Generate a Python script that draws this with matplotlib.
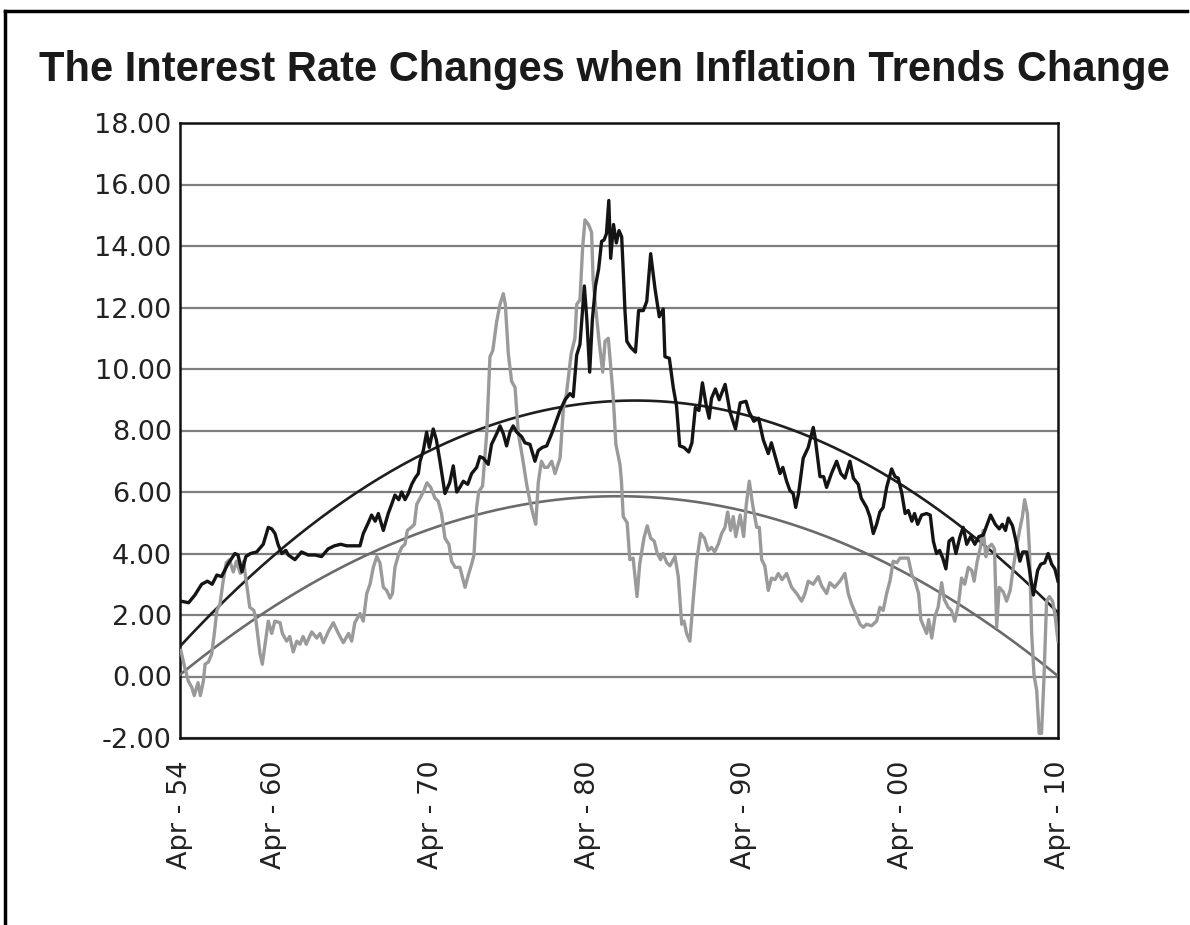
import matplotlib
matplotlib.use("Agg")
import matplotlib.pyplot as plt
from matplotlib.lines import Line2D
import numpy as np

# 10-year rate (black) and inflation (gray), decimal years
rate_years = [
    1954.30, 1954.80, 1955.20, 1955.63, 1956.00, 1956.30, 1956.60, 1956.90, 1957.30, 1957.75,
    1957.95, 1958.20, 1958.45, 1958.75, 1959.14, 1959.56, 1959.88, 1960.10, 1960.31, 1960.50,
    1960.74, 1961.00, 1961.16, 1961.58, 1962.00, 1962.43, 1962.86, 1963.28, 1963.70, 1964.10,
    1964.50, 1964.88, 1965.40, 1965.73, 1965.94, 1966.26, 1966.47, 1966.70, 1966.90, 1967.22,
    1967.53, 1967.75, 1967.96, 1968.20, 1968.39, 1968.60, 1968.81, 1969.03, 1969.24, 1969.45,
    1969.56, 1969.77, 1969.98, 1970.15, 1970.40, 1970.60, 1970.83, 1971.15, 1971.45, 1971.68,
    1971.90, 1972.10, 1972.32, 1972.60, 1972.85, 1973.17, 1973.38, 1973.60, 1973.91, 1974.12,
    1974.45, 1974.66, 1974.87, 1975.08, 1975.30, 1975.50, 1975.72, 1976.04, 1976.25, 1976.57,
    1976.89, 1977.10, 1977.36, 1977.64, 1977.96, 1978.17, 1978.49, 1978.81, 1979.12, 1979.33,
    1979.55, 1979.76, 1980.04, 1980.20, 1980.38, 1980.55, 1980.75, 1980.95, 1981.14, 1981.30,
    1981.45, 1981.60, 1981.72, 1981.90, 1982.08, 1982.25, 1982.42, 1982.52, 1982.63, 1982.75,
    1983.00, 1983.30, 1983.50, 1983.80, 1984.02, 1984.27, 1984.55, 1984.82, 1985.07, 1985.18,
    1985.46, 1985.71, 1985.92, 1986.12, 1986.39, 1986.70, 1986.90, 1987.12, 1987.35, 1987.57,
    1987.82, 1988.00, 1988.15, 1988.40, 1988.64, 1989.02, 1989.33, 1989.68, 1989.98, 1990.35,
    1990.55, 1990.85, 1991.15, 1991.45, 1991.77, 1991.97, 1992.30, 1992.52, 1992.70, 1992.94,
    1993.15, 1993.36, 1993.52, 1993.70, 1994.00, 1994.32, 1994.64, 1994.75, 1995.07, 1995.30,
    1995.49, 1995.80, 1996.13, 1996.40, 1996.66, 1996.98, 1997.20, 1997.51, 1997.70, 1998.04,
    1998.25, 1998.47, 1998.68, 1998.89, 1999.10, 1999.32, 1999.64, 1999.85, 2000.06, 2000.29,
    2000.50, 2000.70, 2000.93, 2001.10, 2001.30, 2001.55, 2001.87, 2002.10, 2002.30, 2002.50,
    2002.70, 2002.90, 2003.10, 2003.30, 2003.53, 2003.74, 2004.00, 2004.20, 2004.43, 2004.68,
    2004.95, 2005.20, 2005.48, 2005.70, 2005.95, 2006.25, 2006.50, 2006.70, 2006.90, 2007.08,
    2007.35, 2007.55, 2007.82, 2008.00, 2008.25, 2008.45, 2008.68, 2008.95, 2009.15, 2009.40,
    2009.62, 2009.85, 2010.05, 2010.25,
]
rate_values = [
    2.45, 2.40, 2.65, 3.00, 3.10, 3.00, 3.30, 3.25, 3.65, 4.00,
    3.95, 3.40, 3.90, 4.00, 4.05, 4.30, 4.85, 4.80, 4.65, 4.30,
    4.00, 4.10, 3.95, 3.80, 4.05, 3.95, 3.95, 3.90, 4.15, 4.25,
    4.30, 4.25, 4.25, 4.25, 4.65, 5.00, 5.25, 5.05, 5.30, 4.75,
    5.30, 5.60, 5.90, 5.75, 6.00, 5.75, 5.95, 6.25, 6.45, 6.60,
    7.00, 7.35, 7.95, 7.45, 8.05, 7.70, 7.00, 5.95, 6.30, 6.85,
    6.00, 6.15, 6.35, 6.25, 6.60, 6.80, 7.15, 7.10, 6.90, 7.55,
    7.90, 8.15, 7.90, 7.50, 7.95, 8.15, 7.95, 7.80, 7.60, 7.55,
    7.00, 7.35, 7.45, 7.50, 7.90, 8.20, 8.65, 9.00, 9.20, 9.10,
    10.45, 10.80, 12.70, 11.60, 9.90, 11.60, 12.70, 13.25, 14.15, 14.20,
    14.40, 15.48, 13.60, 14.70, 14.10, 14.50, 14.30, 13.20, 11.90, 10.90,
    10.70, 10.55, 11.90, 11.90, 12.20, 13.75, 12.60, 11.70, 11.95, 10.40,
    10.35, 9.40, 8.80, 7.50, 7.45, 7.30, 7.60, 8.75, 8.65, 9.55,
    8.80, 8.40, 9.05, 9.35, 9.00, 9.50, 8.60, 8.05, 8.90, 8.95,
    8.60, 8.30, 8.40, 7.70, 7.25, 7.60, 7.00, 6.60, 6.80, 6.35,
    6.05, 5.95, 5.50, 5.95, 7.10, 7.45, 8.10, 7.80, 6.50, 6.50,
    6.15, 6.60, 7.00, 6.60, 6.45, 7.00, 6.45, 6.25, 5.80, 5.50,
    5.20, 4.65, 4.95, 5.35, 5.50, 6.15, 6.75, 6.50, 6.45, 5.95,
    5.30, 5.40, 5.05, 5.30, 4.95, 5.25, 5.30, 5.25, 4.40, 4.00,
    4.10, 3.85, 3.50, 4.40, 4.50, 4.00, 4.55, 4.85, 4.30, 4.55,
    4.30, 4.55, 4.60, 4.90, 5.25, 4.95, 4.80, 4.95, 4.75, 5.15,
    4.90, 4.45, 3.75, 4.05, 4.05, 3.40, 2.65, 3.45, 3.65, 3.70,
    4.00, 3.65, 3.50, 3.10,
]

infl_years = [
    1954.30, 1954.55, 1954.78, 1955.00, 1955.16, 1955.40, 1955.55, 1955.74, 1955.85, 1956.06,
    1956.27, 1956.44, 1956.60, 1956.80, 1957.00, 1957.20, 1957.40, 1957.65, 1957.85, 1958.10,
    1958.30, 1958.50, 1958.70, 1958.96, 1959.10, 1959.35, 1959.50, 1959.65, 1959.88, 1960.10,
    1960.30, 1960.63, 1960.78, 1961.05, 1961.25, 1961.47, 1961.70, 1961.90, 1962.10, 1962.30,
    1962.65, 1962.97, 1963.18, 1963.40, 1963.70, 1964.03, 1964.35, 1964.67, 1965.00, 1965.20,
    1965.40, 1965.73, 1965.94, 1966.16, 1966.37, 1966.58, 1966.80, 1967.00, 1967.22, 1967.43,
    1967.65, 1967.80, 1967.96, 1968.18, 1968.39, 1968.60, 1968.75, 1969.00, 1969.20, 1969.35,
    1969.56, 1969.81, 1970.00, 1970.24, 1970.51, 1970.72, 1970.93, 1971.15, 1971.40, 1971.57,
    1971.80, 1972.10, 1972.43, 1972.64, 1972.85, 1973.00, 1973.17, 1973.30, 1973.55, 1973.81,
    1974.02, 1974.20, 1974.45, 1974.66, 1974.87, 1975.00, 1975.19, 1975.40, 1975.62, 1975.83,
    1976.10, 1976.36, 1976.57, 1976.78, 1976.94, 1977.10, 1977.30, 1977.50, 1977.70, 1977.96,
    1978.17, 1978.49, 1978.70, 1978.90, 1979.20, 1979.44, 1979.55, 1979.76, 1979.93, 1980.08,
    1980.30, 1980.50, 1980.60, 1980.78, 1980.99, 1981.21, 1981.36, 1981.57, 1981.70, 1981.88,
    1982.05, 1982.31, 1982.40, 1982.52, 1982.77, 1982.94, 1983.15, 1983.40, 1983.57, 1983.84,
    1984.05, 1984.27, 1984.50, 1984.69, 1984.90, 1985.06, 1985.30, 1985.50, 1985.82, 1986.03,
    1986.25, 1986.40, 1986.56, 1986.77, 1987.00, 1987.20, 1987.46, 1987.70, 1987.94, 1988.15,
    1988.35, 1988.58, 1988.80, 1989.01, 1989.18, 1989.37, 1989.54, 1989.70, 1989.98, 1990.20,
    1990.37, 1990.56, 1990.77, 1991.03, 1991.20, 1991.35, 1991.55, 1991.77, 1991.98, 1992.20,
    1992.41, 1992.65, 1992.94, 1993.26, 1993.58, 1993.90, 1994.11, 1994.32, 1994.64, 1994.96,
    1995.17, 1995.49, 1995.70, 1996.00, 1996.34, 1996.66, 1996.87, 1997.09, 1997.34, 1997.62,
    1997.83, 1998.04, 1998.36, 1998.68, 1998.89, 1999.10, 1999.32, 1999.53, 1999.74, 1999.97,
    2000.17, 2000.40, 2000.70, 2000.93, 2001.10, 2001.36, 2001.50, 2001.87, 2002.00, 2002.20,
    2002.40, 2002.60, 2002.83, 2003.00, 2003.25, 2003.45, 2003.67, 2003.90, 2004.10, 2004.30,
    2004.53, 2004.75, 2004.90, 2005.10, 2005.30, 2005.48, 2005.65, 2005.80, 2006.02, 2006.20,
    2006.34, 2006.50, 2006.76, 2006.97, 2007.20, 2007.40, 2007.60, 2007.80, 2007.98, 2008.12,
    2008.30, 2008.43, 2008.57, 2008.72, 2008.89, 2009.05, 2009.20, 2009.36, 2009.52, 2009.70,
    2009.90, 2010.05, 2010.25,
]
infl_values = [
    0.85, 0.30, -0.15, -0.35, -0.62, -0.20, -0.62, -0.15, 0.40, 0.47,
    0.73, 1.40, 2.15, 2.35, 3.10, 3.70, 3.80, 3.40, 3.75, 3.35,
    3.75, 3.00, 2.25, 2.15, 1.80, 0.75, 0.40, 0.95, 1.80, 1.40,
    1.80, 1.75, 1.40, 1.15, 1.30, 0.80, 1.15, 1.05, 1.30, 1.05,
    1.45, 1.25, 1.40, 1.10, 1.45, 1.75, 1.40, 1.10, 1.40, 1.15,
    1.75, 2.05, 1.80, 2.70, 3.00, 3.55, 3.90, 3.70, 2.90, 2.80,
    2.55, 2.70, 3.55, 3.95, 4.20, 4.30, 4.75, 4.85, 4.95, 5.60,
    5.80, 6.05, 6.30, 6.15, 5.80, 5.70, 5.30, 4.50, 4.30, 3.75,
    3.55, 3.55, 2.90, 3.30, 3.65, 3.95, 5.50, 6.00, 6.20, 7.90,
    10.40, 10.60, 11.55, 12.10, 12.45, 12.10, 10.50, 9.60, 9.40, 7.90,
    7.10, 6.25, 5.70, 5.25, 4.95, 6.30, 7.00, 6.80, 6.80, 7.00,
    6.60, 7.10, 8.70, 9.20, 10.50, 11.00, 12.10, 12.25, 13.95, 14.85,
    14.70, 14.45, 12.90, 11.90, 10.85, 9.90, 10.90, 11.00, 10.20, 9.10,
    7.55, 6.90, 6.40, 5.20, 5.00, 3.80, 3.85, 2.60, 3.65, 4.50,
    4.90, 4.50, 4.40, 4.00, 3.80, 4.00, 3.70, 3.60, 3.90, 3.25,
    1.70, 1.80, 1.40, 1.15, 2.60, 3.75, 4.65, 4.50, 4.10, 4.20,
    4.05, 4.30, 4.65, 4.85, 5.35, 4.75, 5.20, 4.55, 5.25, 4.55,
    5.60, 6.35, 5.60, 4.85, 4.85, 3.80, 3.60, 2.80, 3.20, 3.15,
    3.35, 3.15, 3.35, 2.90, 2.70, 2.45, 2.70, 3.10, 3.00, 3.25,
    2.95, 2.70, 3.05, 2.90, 3.10, 3.35, 2.70, 2.35, 2.05, 1.70,
    1.60, 1.70, 1.65, 1.80, 2.25, 2.15, 2.70, 3.10, 3.75, 3.70,
    3.85, 3.85, 3.85, 3.30, 3.15, 2.70, 1.85, 1.40, 1.85, 1.25,
    1.95, 2.25, 3.05, 2.50, 2.25, 2.15, 1.80, 2.35, 3.20, 3.00,
    3.55, 3.45, 3.10, 3.75, 4.20, 4.75, 3.90, 4.20, 4.30, 4.15,
    1.60, 2.90, 2.75, 2.45, 2.80, 3.55, 4.20, 4.75, 5.20, 5.75,
    5.30, 4.10, 1.40, 0.05, -0.45, -1.85, -1.85, 0.00, 2.45, 2.60,
    2.45, 2.05, 1.15,
]

# points along the two trend curves
rate_trend_years = [1954.25, 1963.18, 1972.43, 1982.63, 1990.92, 2000.93, 2010.25]
rate_trend_values = [0.97, 5.18, 7.80, 8.98, 8.49, 5.94, 2.10]
infl_trend_years = [1954.25, 1963.18, 1972.43, 1982.63, 1990.92, 2000.93, 2010.25]
infl_trend_values = [0.12, 3.07, 5.13, 5.94, 5.34, 3.18, 0.03]

tick_years = [1954.25, 1960.25, 1970.25, 1980.25, 1990.25, 2000.25, 2010.25]
tick_labels = ["Apr - 54", "Apr - 60", "Apr - 70", "Apr - 80", "Apr - 90", "Apr - 00", "Apr - 10"]

fig = plt.figure(figsize=(11.9, 9.25), dpi=100)
ax = fig.add_axes([180 / 1190, 1 - 738 / 925, 878 / 1190, 615 / 925])

ax.set_xlim(1954.25, 2010.25)
ax.set_ylim(-2, 18)
ax.set_yticks(np.arange(-2, 18.1, 2))
ax.set_yticklabels(["%.2f" % v for v in np.arange(-2, 18.1, 2)])
ax.set_xticks(tick_years)
ax.set_xticklabels(tick_labels, rotation=90)
ax.grid(axis="y", color="#7f7f7f", linewidth=1.6)
ax.set_axisbelow(True)
for s in ax.spines.values():
    s.set_color("#111111")
    s.set_linewidth(1.8)
ax.tick_params(length=0, labelsize=19.5, labelcolor="#222222")
ax.tick_params(axis="y", pad=6)
ax.tick_params(axis="x", pad=16)
for lab in ax.get_xticklabels() + ax.get_yticklabels():
    lab.set_family("DejaVu Sans")

# trend curves: quadratic through the read points
t = np.linspace(1954.25, 2010.25, 300)
rate_fit = np.polyfit(rate_trend_years, rate_trend_values, 2)
infl_fit = np.polyfit(infl_trend_years, infl_trend_values, 2)
ax.plot(t, np.polyval(infl_fit, t), color="#6b6b6b", linewidth=1.9, zorder=3)
ax.plot(t, np.polyval(rate_fit, t), color="#1e1e1e", linewidth=1.9, zorder=3)

ax.plot(infl_years, infl_values, color="#9a9a9a", linewidth=2.4, zorder=4)
ax.plot(rate_years, rate_values, color="#141414", linewidth=2.4, zorder=5)

fig.text(0.508, 0.924, "The Interest Rate Changes when Inflation Trends Change",
         ha="center", va="center", fontsize=30, fontweight="bold",
         family="Liberation Sans", color="#1a1a1a")

# page frame
fig.add_artist(Line2D([5 / 1190, 1187 / 1190], [1 - 11 / 925, 1 - 11 / 925],
                      transform=fig.transFigure, color="black", linewidth=2.5))
fig.add_artist(Line2D([5 / 1190, 5 / 1190], [0, 1 - 11 / 925],
                      transform=fig.transFigure, color="black", linewidth=2.5))

fig.savefig("out.png", dpi=100, facecolor="white")
